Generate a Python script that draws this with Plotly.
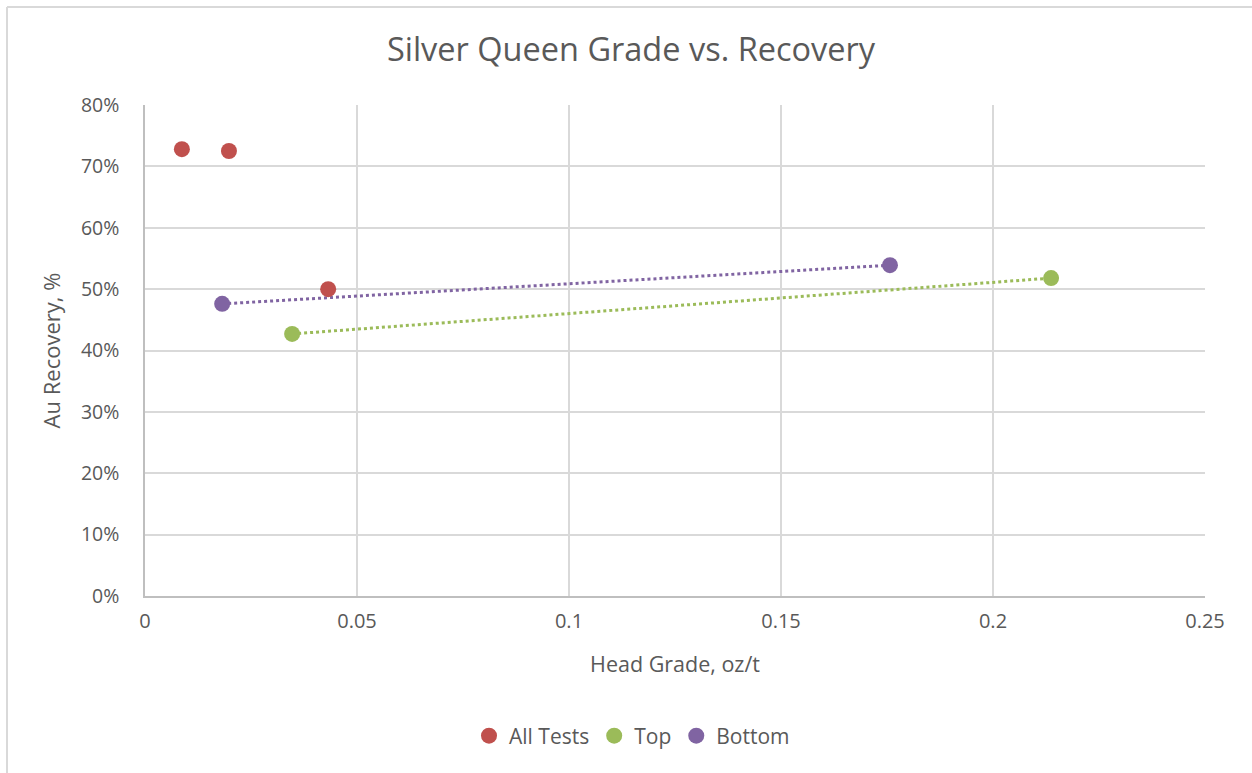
import plotly.graph_objects as go

# Head grade (oz/t) and Au recovery (fraction) per test group
all_x = [0.0087, 0.0198, 0.0432]
all_y = [0.728, 0.725, 0.500]
top_x = [0.0347, 0.2137]
top_y = [0.427, 0.518]
bot_x = [0.0182, 0.1757]
bot_y = [0.476, 0.539]

RED = "#C0504D"
GREEN = "#9BBB59"
PURPLE = "#8064A2"
TXT = "#595959"
FONT = "Open Sans"

fig = go.Figure()

# dotted linear trendlines (two points each, so the fit passes through both)
for xs, ys, col in [(bot_x, bot_y, PURPLE), (top_x, top_y, GREEN)]:
    fig.add_trace(go.Scatter(x=xs, y=ys, mode="lines", showlegend=False,
                             hoverinfo="skip",
                             line=dict(color=col, width=3, dash="dot")))

for name, xs, ys, col in [("All Tests", all_x, all_y, RED),
                          ("Top", top_x, top_y, GREEN),
                          ("Bottom", bot_x, bot_y, PURPLE)]:
    fig.add_trace(go.Scatter(x=xs, y=ys, mode="markers", name=name,
                             marker=dict(color=col, size=16)))

W, H = 1252, 773
L, R, T, B = 145, 47, 105, 177
pw, ph = W - L - R, H - T - B

def px(x):
    return (x - L) / pw

def py(y):
    return (H - B - y) / ph

fig.update_layout(
    width=W, height=H,
    margin=dict(l=L, r=R, t=T, b=B),
    paper_bgcolor="white", plot_bgcolor="white",
    font=dict(family=FONT, color=TXT, size=19),
    title=dict(text="Silver Queen Grade vs. Recovery", x=631 / W,
               xref="container", xanchor="center", y=1 - 50 / H,
               yanchor="middle",
               font=dict(size=32.5, color=TXT, family=FONT)),
    xaxis=dict(range=[0, 0.25], showgrid=True, gridcolor="#D9D9D9",
               gridwidth=1.5, zeroline=False, showline=True, linecolor="#BFBFBF",
               linewidth=1.5, mirror=False, ticks="",
               tickvals=[0, 0.05, 0.1, 0.15, 0.2, 0.25],
               ticktext=["0", "0.05", "0.1", "0.15", "0.2", "0.25"],
               tickfont=dict(size=20, color=TXT),
               ticklabelstandoff=6,
               title=dict(text="Head Grade, oz/t", standoff=24,
                          font=dict(size=21.5, color=TXT))),
    yaxis=dict(range=[0, 0.8], dtick=0.1, tickformat=".0%", showgrid=True,
               gridcolor="#D9D9D9", gridwidth=1.5, zeroline=False,
               showline=True, linecolor="#BFBFBF", linewidth=1.5, ticks="",
               tickfont=dict(size=19.5, color=TXT),
               ticklabelstandoff=20,
               title=dict(text="Au Recovery, %", standoff=14,
                          font=dict(size=22, color=TXT))),
    legend=dict(orientation="h", x=px(632), xanchor="center", y=py(736),
                yanchor="middle", font=dict(size=21, color=TXT),
                itemsizing="trace", itemwidth=30, tracegroupgap=0),
    showlegend=True,
)

# outer chart frame (left and top edges)
frame = dict(type="line", xref="paper", yref="paper",
             line=dict(color="#D9D9D9", width=2))
fig.add_shape(**frame, x0=px(7), x1=px(7), y0=py(7), y1=py(H + 5))
fig.add_shape(**frame, x0=px(7), x1=px(W + 5), y0=py(7), y1=py(7))

fig.write_html("out.html")
